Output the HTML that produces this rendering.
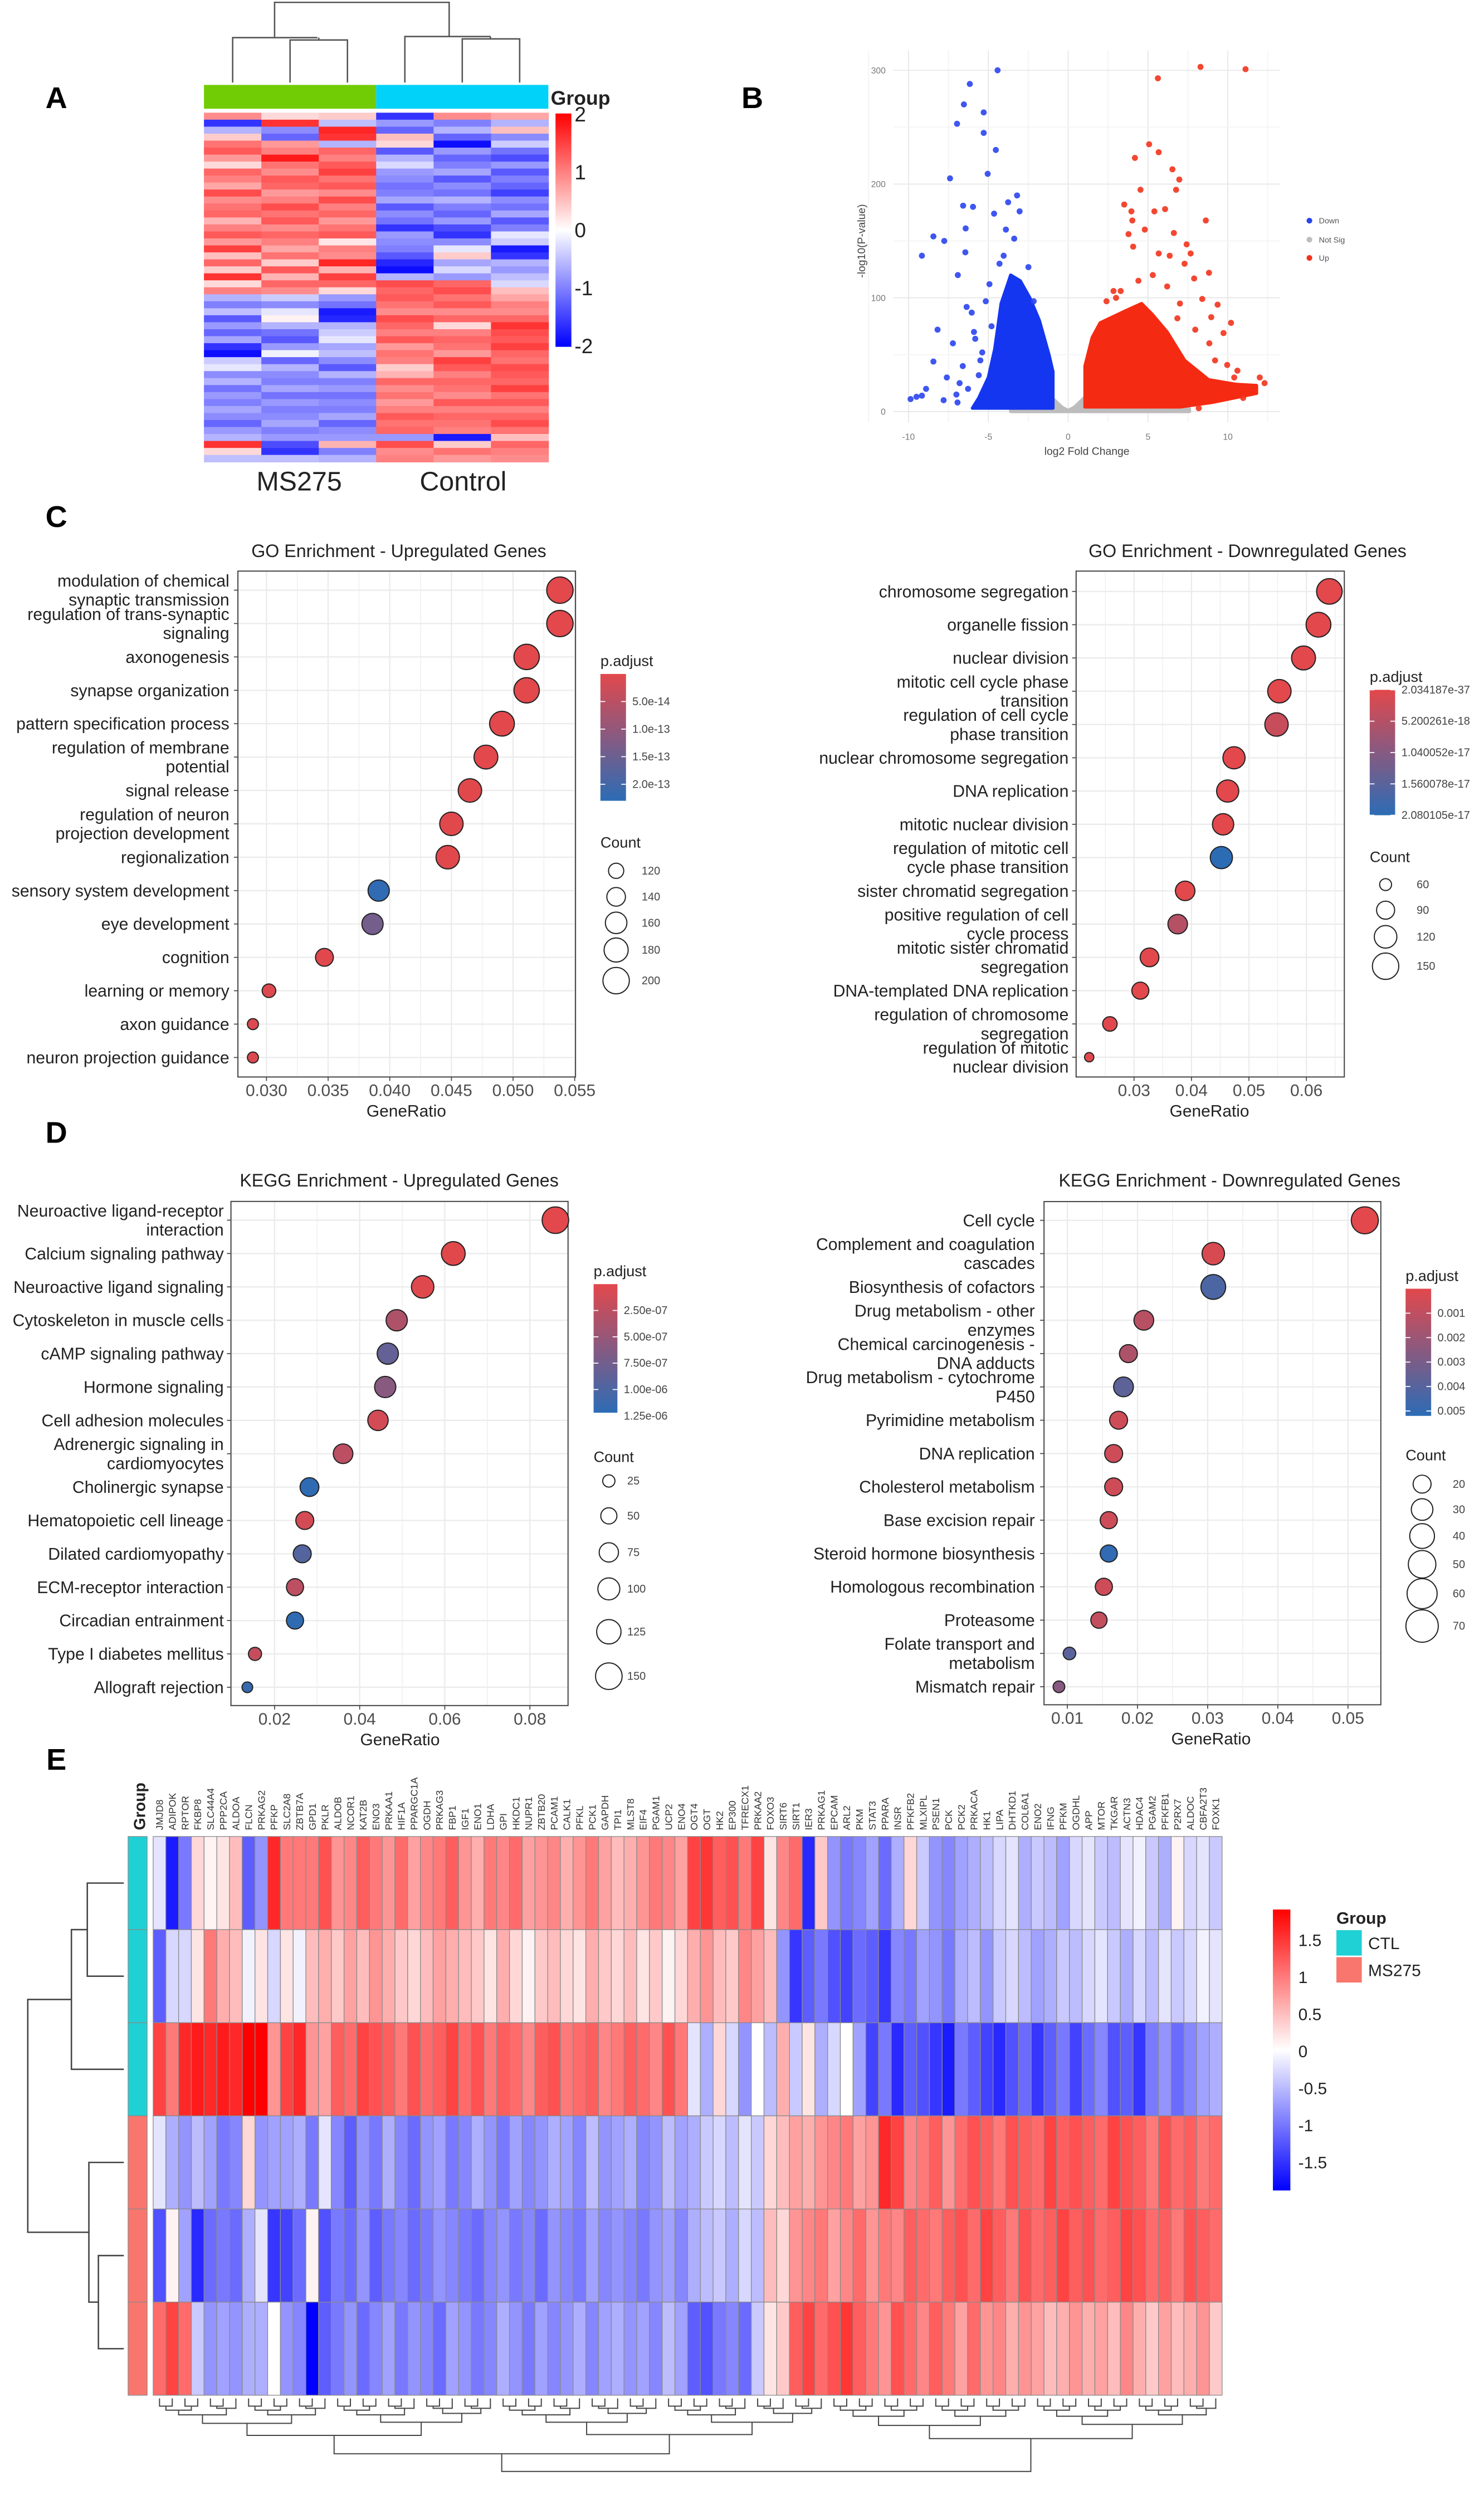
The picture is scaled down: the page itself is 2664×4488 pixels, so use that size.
<!DOCTYPE html>
<html><head><meta charset="utf-8"><title>Figure</title>
<style>
html,body{margin:0;padding:0;background:#fff;}
svg{display:block;font-family:"Liberation Sans",Arial,sans-serif;}
</style></head>
<body>
<svg id="fig" xmlns="http://www.w3.org/2000/svg" width="2664" height="4488" viewBox="0 0 935 1575" preserveAspectRatio="none">
<rect x="0" y="0" width="935" height="1575" fill="#fff"/>
<text x="35.5" y="68" font-size="19" font-weight="bold" text-anchor="middle">A</text>
<text x="474" y="68" font-size="19" font-weight="bold" text-anchor="middle">B</text>
<text x="35.5" y="332" font-size="19" font-weight="bold" text-anchor="middle">C</text>
<text x="35.5" y="720" font-size="19" font-weight="bold" text-anchor="middle">D</text>
<text x="35.5" y="1115" font-size="19" font-weight="bold" text-anchor="middle">E</text>
</svg>
<script>
// ---------- Panel A heatmap data (rows top->bottom) ----------
const aMs1=[0.9,-1.6,-0.6,0.4,1.1,1.3,0.8,0.3,1.2,1.0,0.7,1.4,0.9,1.1,1.2,0.6,1.0,1.3,0.8,1.5,0.5,1.2,0.4,1.6,0.3,1.0,-0.6,-1.0,-0.5,-1.3,-0.8,-1.2,-0.7,-1.6,-1.9,-0.4,-0.2,-0.9,-0.6,-1.1,-0.8,-1.0,-0.7,-0.9,-1.2,-0.8,-0.6,1.6,0.3,-0.5];
const aMs2=[0.3,1.6,-0.9,-1.2,0.8,1.0,1.8,1.1,0.9,1.3,1.2,0.8,1.0,1.4,1.1,1.3,0.9,1.2,1.0,0.7,1.1,0.4,1.3,0.6,1.2,0.9,-0.4,-0.9,-0.2,0.1,-0.6,-1.1,-1.3,-0.8,-0.1,-1.2,-0.6,-0.9,-1.0,-0.7,-1.1,-0.8,-1.0,-0.9,-0.7,-1.0,-0.8,-1.4,-1.6,-0.5];
const aMs3=[0.4,-0.5,1.7,1.6,-0.6,1.2,1.0,1.3,1.5,1.1,1.3,0.9,1.4,1.0,1.2,0.8,1.1,1.3,0.2,1.0,0.9,1.7,0.6,1.5,1.2,0.3,-0.8,-1.1,-1.8,-1.7,-0.6,-0.4,-0.2,-0.7,-0.5,-0.9,-1.3,-0.6,-1.0,-0.8,-1.1,-0.9,-1.0,-0.7,-1.2,-0.9,-0.8,0.6,-1.0,-0.6];
const aCt1=[-1.6,-0.8,-1.2,0.5,0.3,-1.3,-0.6,-0.3,-0.8,-0.9,-1.1,-1.0,-0.7,-1.3,-0.9,-1.1,-1.6,-0.8,-0.9,-1.0,-1.3,-1.7,-1.9,-0.6,1.4,1.2,1.3,1.1,0.9,1.4,1.2,1.0,1.3,0.8,1.1,1.0,0.4,0.6,1.2,0.9,1.1,0.8,1.0,1.3,1.1,1.2,-0.8,1.4,0.9,1.0];
const aCt2=[0.9,-1.0,-0.6,-1.2,-1.9,-0.8,-1.2,-1.0,-0.7,-1.3,-0.9,-1.1,-0.6,-1.0,-1.2,-0.8,-1.4,-1.6,-0.9,-0.2,0.4,-0.7,-0.3,-0.8,1.2,1.4,1.1,1.3,0.9,1.2,0.3,1.0,1.2,1.1,0.8,1.5,1.3,1.0,1.2,1.1,0.9,1.3,1.0,1.2,1.1,1.0,-1.8,0.4,1.1,0.8];
const aCt3=[0.7,-0.6,0.5,-0.9,-0.4,-1.1,-1.4,-0.8,-1.3,-1.0,-1.2,-1.5,-0.9,-1.1,-0.7,-1.3,-1.0,-0.2,-0.4,-1.8,-1.6,-0.6,-0.8,-0.5,-0.3,0.5,0.7,1.0,0.9,1.2,1.6,1.4,1.3,1.5,1.2,1.1,1.4,1.3,1.2,1.5,1.1,1.3,1.0,1.2,1.4,1.1,0.5,1.2,1.0,0.9];
const aSamples=["MS275-1","MS275-2","MS275-3","Control-1","Control-2","Control-3"];
// ---------- Panel B volcano data ----------
const downFC=[-4.42,-6.16,-6.53,-5.29,-6.96,-5.29,-4.53,-5.04,-7.4,-3.2,-6.58,-5.96,-4.64,-3.76,-3.04,-6.42,-8.44,-7.76,-9.16,-6.44,-6.91,-8.18,-7.22,-8.44,-9.87,-9.16,-7.8,-7.6,-6.36,-6.04,-5.16,-5.82,-6.27,-6.93,-5.6,-4.93,-4.04,-3.38,-2.49,-2.16,-5.38,-4.8,-5.5,-6.8,-7.0,-4.3,-3.9,-5.9,-6.6,-8.9,-9.5];
const downLP=[300,288,270,263,253,245,230,209,205,190,181,180,174,184,176,161,154,150,137,140,120,72,60,44,11,14,10,30,92,87,97,64,20,8,32,112,137,152,127,97,52,75,45,25,15,130,160,70,40,20,13];
const upFC=[8.29,11.11,5.62,5.07,5.67,4.18,6.53,6.96,4.53,6.76,3.51,5.4,6.07,3.96,8.62,4.02,6.62,3.78,4.8,7.42,7.67,4.07,5.67,6.36,8.82,7.29,7.89,9.36,8.4,8.96,10.2,9.73,9.96,10.6,12.0,12.3,10.96,8.18,8.84,3.29,2.84,2.4,7.96,6.84,5.3,4.4,3.0,6.2,7.0,9.2,10.4];
const upLP=[303,301,293,235,228,223,213,204,195,195,182,176,178,176,168,168,157,156,160,147,139,145,139,137,122,130,117,94,99,83,78,69,41,36,30,25,12,3,60,106,106,97,72,82,120,115,100,110,95,45,30];
const downAreaFC=[-0.95,-0.95,-1.2,-1.8,-2.4,-3.0,-3.6,-4.2,-4.6,-5.0,-5.6,-6.0,-0.95];
const downAreaLP=[4,35,50,80,100,115,120,95,55,30,12,3,3];
const upAreaFC=[1.05,1.05,1.5,2.0,3.5,4.6,5.3,6.2,7.3,8.8,10.5,11.8,11.8,9.0,7.0];
const upAreaLP=[4,40,65,78,88,95,85,70,45,28,24,23,16,8,4];
const nsAreaFC=[-3.6,-1.0,-0.4,0,0.4,1.0,7.6,7.6,-3.6];
const nsAreaLP=[2.5,12,4,1,4,12,2.5,0,0];
const volXTicks=[-10,-5,0,5,10];
const volYTicks=[0,100,200,300];
// ---------- Panel C / D dot plot data ----------
const goUpTerms=["modulation of chemical\nsynaptic transmission","regulation of trans-synaptic\nsignaling","axonogenesis","synapse organization","pattern specification process","regulation of membrane\npotential","signal release","regulation of neuron\nprojection development","regionalization","sensory system development","eye development","cognition","learning or memory","axon guidance","neuron projection guidance"];
const goUpRatio=[0.0538,0.0538,0.0511,0.0511,0.0491,0.0478,0.0465,0.0450,0.0447,0.0391,0.0386,0.0347,0.0302,0.0289,0.0289];
const goUpCount=[200,200,191,191,186,178,175,175,175,158,158,135,112,101,101];
const goUpPadj=[1e-16,1e-16,2e-16,2e-16,4e-16,6e-16,8e-16,1e-15,1e-15,2.25e-13,1.4e-13,2e-15,6e-15,8e-15,9e-15];
const goUpTicks=[0.030,0.035,0.040,0.045,0.050,0.055];
const goUpCbTicks=[5e-14,1e-13,1.5e-13,2e-13];
const goUpCbLabels=["5.0e-14","1.0e-13","1.5e-13","2.0e-13"];
const goUpLegend=[120,140,160,180,200];

const goDnTerms=["chromosome segregation","organelle fission","nuclear division","mitotic cell cycle phase\ntransition","regulation of cell cycle\nphase transition","nuclear chromosome segregation","DNA replication","mitotic nuclear division","regulation of mitotic cell\ncycle phase transition","sister chromatid segregation","positive regulation of cell\ncycle process","mitotic sister chromatid\nsegregation","DNA-templated DNA replication","regulation of chromosome\nsegregation","regulation of mitotic\nnuclear division"];
const goDnRatio=[0.0640,0.0621,0.0595,0.0553,0.0548,0.0474,0.0463,0.0455,0.0452,0.0389,0.0376,0.0327,0.0311,0.0258,0.0222];
const goDnCount=[143,137,130,126,126,117,117,111,117,99,99,94,84,71,51];
const goDnPadj=[2.1e-37,1e-30,1e-28,1e-26,3e-18,1e-24,1e-22,1e-22,2.08e-17,1e-21,5e-18,1e-20,1e-20,1e-19,1e-19];
const goDnTicks=[0.03,0.04,0.05,0.06];
const goDnCbTicks=[0,5.200261e-18,1.040052e-17,1.560078e-17,2.080105e-17];
const goDnCbLabels=["2.034187e-37","5.200261e-18","1.040052e-17","1.560078e-17","2.080105e-17"];
const goDnLegend=[60,90,120,150];

const kgUpTerms=["Neuroactive ligand-receptor\ninteraction","Calcium signaling pathway","Neuroactive ligand signaling","Cytoskeleton in muscle cells","cAMP signaling pathway","Hormone signaling","Cell adhesion molecules","Adrenergic signaling in\ncardiomyocytes","Cholinergic synapse","Hematopoietic cell lineage","Dilated cardiomyopathy","ECM-receptor interaction","Circadian entrainment","Type I diabetes mellitus","Allograft rejection"];
const kgUpRatio=[0.0860,0.0620,0.0548,0.0487,0.0466,0.0460,0.0443,0.0361,0.0282,0.0271,0.0265,0.0248,0.0248,0.0154,0.0136];
const kgUpCount=[150,118,105,93,93,93,85,78,71,64,64,57,57,30,17];
const kgUpPadj=[1e-12,5e-9,2e-8,3.5e-7,8.5e-7,6e-7,1e-7,2.5e-7,1.2e-6,1e-7,9.5e-7,2.5e-7,1.2e-6,2e-7,1.15e-6];
const kgUpTicks=[0.02,0.04,0.06,0.08];
const kgUpCbTicks=[2.5e-7,5e-7,7.5e-7,1e-6,1.25e-6];
const kgUpCbLabels=["2.50e-07","5.00e-07","7.50e-07","1.00e-06","1.25e-06"];
const kgUpLegend=[25,50,75,100,125,150];

const kgDnTerms=["Cell cycle","Complement and coagulation\ncascades","Biosynthesis of cofactors","Drug metabolism - other\nenzymes","Chemical carcinogenesis -\nDNA adducts","Drug metabolism - cytochrome\nP450","Pyrimidine metabolism","DNA replication","Cholesterol metabolism","Base excision repair","Steroid hormone biosynthesis","Homologous recombination","Proteasome","Folate transport and\nmetabolism","Mismatch repair"];
const kgDnRatio=[0.0524,0.0308,0.0308,0.0209,0.0187,0.0180,0.0173,0.0166,0.0166,0.0159,0.0159,0.0152,0.0145,0.0103,0.0088];
const kgDnCount=[48,32.5,40,24.7,20,24.7,20,20,20,18,18,18,16,8.7,7.2];
const kgDnPadj=[1e-12,3e-4,4.3e-3,1.2e-3,1.5e-3,3.8e-3,6e-4,6e-4,6e-4,6e-4,5.1e-3,6e-4,9e-4,3.9e-3,2.6e-3];
const kgDnTicks=[0.01,0.02,0.03,0.04,0.05];
const kgDnCbTicks=[0.001,0.002,0.003,0.004,0.005];
const kgDnCbLabels=["0.001","0.002","0.003","0.004","0.005"];
const kgDnLegend=[20,30,40,50,60,70];
// ---------- Panel E heatmap data ----------
const eGenes=["JMJD8","ADIPOK","RPTOR","FKBP8","SLC44A4","PPP2CA","ALDOA","FLCN","PRKAG2","PFKP","SLC2A8","ZBTB7A","GPD1","PKLR","ALDOB","NCOR1","KAT2B","ENO3","PRKAA1","HIF1A","PPARGC1A","OGDH","PRKAG3","FBP1","IGF1","ENO1","LDHA","GPI","HKDC1","NUPR1","ZBTB20","PCAM1","CALK1","PFKL","PCK1","GAPDH","TPI1","MLST8","EIF4","PGAM1","UCP2","ENO4","OGT4","OGT","HK2","EP300","TFRECX1","PRKAA2","FOXO3","SIRT6","SIRT1","IER3","PRKAG1","EPCAM","ARL2","PKM","STAT3","PPARA","INSR","PFKFB2","MLXIPL","PSEN1","PCK","PCK2","PRKACA","HK1","LIPA","DHTKD1","COL6A1","ENO2","IFNG","PFKM","OGDHL","APP","MTOR","TKGAR","ACTN3","HDAC4","PGAM2","PFKFB1","P2RX7","ALDOC","CBFA2T3","FOXK1"];
const eGroups=["CTL","CTL","CTL","MS275","MS275","MS275"];
const eRow1=[-0.2,-1.7,-1.0,0.3,0.1,0.2,0.5,-1.2,-0.8,1.6,1.0,1.0,1.0,1.3,0.8,0.9,1.2,1.0,0.8,1.1,0.7,0.9,1.0,1.2,0.8,0.6,1.0,0.9,1.1,0.7,0.8,0.9,0.6,0.8,1.0,0.7,0.5,0.6,0.8,1.0,0.9,0.7,1.4,1.5,1.2,1.3,1.0,1.4,0.2,0.9,1.1,-1.6,0.4,-0.8,-1.0,-0.9,-0.7,-1.1,-0.6,0.3,-0.4,-0.8,-0.9,-0.7,-0.6,-0.5,-0.3,-0.2,-0.6,-0.4,-0.5,-0.7,-0.3,-0.2,-0.4,-0.5,-0.2,-0.1,-0.4,-0.6,0.1,-0.3,-0.2,-0.4];
const eRow2=[-1.2,-0.3,-0.3,0.2,1.0,0.6,0.5,-0.1,0.2,-0.3,0.2,-0.1,0.5,0.6,0.4,0.7,0.5,0.8,0.6,0.4,0.3,0.5,0.7,0.6,0.5,0.4,0.2,0.6,0.3,0.1,0.4,0.5,0.3,0.2,0.6,0.4,0.3,0.5,0.2,0.4,0.1,0.3,0.6,0.8,0.5,0.4,0.9,0.7,0.5,-0.8,-1.5,-1.2,-1.0,-1.3,-1.4,-1.1,-1.2,-1.5,-0.9,-1.0,-0.7,-0.8,-1.0,-0.6,-0.5,-0.8,-0.4,-0.3,-0.5,-0.7,-0.6,-0.4,-0.5,-0.3,-0.2,-0.4,-0.6,-0.3,-0.5,-0.2,-0.4,-0.3,-0.1,-0.2];
const eRow3=[1.4,1.0,1.6,1.7,1.6,1.7,1.6,1.9,1.9,0.8,1.4,1.6,0.8,0.7,1.2,1.1,1.4,1.3,1.2,1.0,1.3,1.1,1.2,1.4,1.1,1.3,1.0,1.2,1.1,0.9,1.2,1.3,1.0,1.1,1.2,0.9,1.0,1.2,1.1,0.9,1.3,1.0,-0.2,-0.6,0.3,-0.3,-0.8,0.0,-0.5,0.6,-0.4,0.2,-0.6,-0.3,0.0,-0.7,-1.4,-1.0,-1.6,-1.2,-1.3,-1.5,-1.7,-1.0,-1.2,-1.4,-1.6,-1.3,-1.1,-1.5,-1.2,-1.0,-1.4,-1.1,-0.9,-1.3,-1.2,-1.5,-1.0,-0.8,-1.1,-0.9,-0.7,-0.6];
const eRow4=[-0.2,-0.6,-0.8,-0.5,-0.7,-1.0,-0.9,0.3,-0.8,-0.7,-0.7,-0.6,-1.0,-0.2,-0.9,-1.2,-0.8,-1.0,-0.6,-0.9,-1.1,-0.8,-0.7,-1.0,-0.9,-0.6,-0.8,-1.0,-0.7,-0.9,-0.8,-0.6,-0.7,-0.9,-0.5,-0.8,-0.7,-0.6,-0.9,-0.8,-0.5,-0.7,-0.6,-0.4,-0.3,-0.5,-0.2,-0.4,0.3,0.5,0.7,0.6,0.8,0.9,1.0,0.7,0.8,1.6,1.4,0.9,1.0,1.2,0.8,1.1,1.3,1.2,1.0,1.3,1.2,1.1,1.4,1.2,1.3,1.2,1.1,1.4,1.3,1.2,1.0,1.3,1.1,1.2,1.0,1.1];
const eRow5=[-1.3,0.1,-0.7,-1.6,-1.1,-1.0,-1.1,-0.6,-0.2,-1.5,-1.4,-1.1,0.1,-1.3,-1.0,-1.1,-0.8,-1.2,-1.0,-0.9,-1.1,-1.0,-0.8,-0.9,-1.0,-1.1,-0.9,-0.8,-1.0,-0.9,-1.1,-0.8,-0.9,-1.0,-0.7,-0.9,-0.8,-0.9,-1.0,-0.8,-0.7,-0.9,-0.6,-0.5,-0.4,-0.6,-0.3,-0.5,0.5,0.3,0.8,0.9,1.0,0.7,0.9,1.1,0.8,1.0,0.9,1.2,1.1,1.0,1.2,1.3,1.1,1.4,1.2,1.0,1.3,1.1,1.2,1.4,1.2,1.3,1.1,1.2,1.4,1.3,1.1,1.2,1.0,1.3,1.2,1.1];
const eRow6=[1.1,1.4,1.1,-0.4,-0.8,-0.7,-0.8,-0.6,-0.6,0.0,-0.8,-0.9,-1.9,-1.2,-1.0,-0.8,-1.1,-0.9,-0.7,-1.0,-0.8,-0.9,-1.1,-0.7,-0.8,-1.0,-0.9,-0.6,-0.8,-1.0,-0.7,-0.9,-0.8,-0.6,-0.9,-0.7,-0.6,-0.8,-0.7,-0.9,-0.5,-0.7,-1.2,-1.3,-1.0,-0.9,-1.1,-0.4,0.2,0.4,1.2,1.4,1.1,1.3,1.5,1.2,1.0,0.8,1.3,1.1,0.9,1.2,1.0,0.7,1.1,0.8,0.9,0.6,0.8,0.7,0.5,0.6,0.8,0.6,0.7,0.5,0.9,0.6,0.4,0.7,0.5,0.6,0.8,0.4];
const eTicks=[1.5,1,0.5,0,-0.5,-1,-1.5];

// ---------- helpers ----------
const NS='http://www.w3.org/2000/svg';
const svg=document.getElementById('fig');
function mk(tag,attrs,parent){const e=document.createElementNS(NS,tag);for(const k in attrs)e.setAttribute(k,attrs[k]);(parent||svg).appendChild(e);return e;}
function txt(x,y,s,size,anchor,parent,extra){const e=mk('text',Object.assign({x:x,y:y,'font-size':size,'text-anchor':anchor||'start',fill:'#222'},extra||{}),parent);e.textContent=s;return e;}
function mix(a,b,t){t=Math.max(0,Math.min(1,t));return 'rgb('+a.map((v,i)=>Math.round(v+(b[i]-v)*t)).join(',')+')';}
const RED=[226,72,76],BLUE=[44,108,181];
function divColor(v,max){return v>=0?mix([255,255,255],[255,0,0],v/max):mix([255,255,255],[0,0,255],-v/max);}

// ---------- Panel A ----------
(function(){
  const g=mk('g',{});
  
  
  const cols=[aMs1,aMs2,aMs3,aCt1,aCt2,aCt3];
  const x0=128.5,x1=345.5,y0=71,y1=291;
  const cw=(x1-x0)/cols.length, rh=(y1-y0)/aMs1.length;
  cols.forEach((col,c)=>{col.forEach((v,r)=>{
    const rc=mk('rect',{x:x0+c*cw,y:y0+r*rh,width:cw+0.3,height:rh+0.3,fill:divColor(v,2)},g);
    
    
  });});
  const gb1=mk('rect',{x:x0,y:53.5,width:cw*3,height:15,fill:'#72CC05'},g);
  
  
  const gb2=mk('rect',{x:x0+cw*3,y:53.5,width:cw*3,height:15,fill:'#00D2FA'},g);
  
  
  const cx=i=>x0+cw*(i+0.5);
  const dd='M'+cx(0)+',52 V23.7 H200 M'+cx(1)+',52 V25.2 H'+cx(2)+' V52 M'+((cx(1)+cx(2))/2)+',25.2 V23.7 M173,23.7 V1.5 H283 V23 M'+cx(3)+',52 V23 H309 M'+cx(4)+',52 V24.5 H'+cx(5)+' V52 M309,24.5 V23';
  const den=mk('path',{d:dd,fill:'none',stroke:'#555','stroke-width':0.9},g);
  
  
  const defs=mk('defs',{});
  const lg=mk('linearGradient',{id:'gradA',x1:0,y1:0,x2:0,y2:1},defs);
  mk('stop',{offset:'0','stop-color':'#ff0000'},lg);mk('stop',{offset:'0.5','stop-color':'#ffffff'},lg);mk('stop',{offset:'1','stop-color':'#0000ff'},lg);
  const cb=mk('rect',{x:350,y:71.5,width:10,height:147,fill:'url(#gradA)'},g);
  
  
  const tv=[2,1,0,-1,-2];
  tv.forEach(v=>{const t=txt(362,145-v*36.5+4.5,String(v),13,'start',g);
    
    });
  const gt=txt(347,66,'Group',12.5,'start',g,{'font-weight':'bold'});
  
  
  const l1=txt(188.5,309,'MS275',17,'middle',g);
  
  
  const l2=txt(291.8,309,'Control',17,'middle',g);
  
  
})();

// ---------- Panel B ----------
(function(){
  const g=mk('g',{});
  
  
  const X=v=>673+v*10.06, Y=v=>259.3-v*0.7167;
  for(let v=-12.5;v<=12.5;v+=2.5){const l=mk('line',{x1:X(v),x2:X(v),y1:31.8,y2:266,stroke:(v%5===0)?'#e6e6e6':'#f3f3f3','stroke-width':0.6},g);
    
    }
  for(let v=0;v<=320;v+=50){const l=mk('line',{x1:562.8,x2:806.7,y1:Y(v),y2:Y(v),stroke:(v%100===0)?'#e6e6e6':'#f3f3f3','stroke-width':0.6},g);
    
    }
  volXTicks.forEach(v=>{const t=txt(X(v),277,String(v),5.5,'middle',g,{fill:'#777'});
    
    });
  volYTicks.forEach(v=>{const t=txt(558,Y(v)+2,String(v),5.5,'end',g,{fill:'#777'});
    
    });
  const poly=(fx,fy,col,name)=>{const p=mk('polygon',{points:fx.map((v,i)=>X(v)+','+Y(fy[i])).join(' '),fill:col,stroke:col,'stroke-width':2,'stroke-linejoin':'round'},g);
    
    };
  poly(nsAreaFC,nsAreaLP,'#bdbdbd','not-sig-points');
  poly(downAreaFC,downAreaLP,'#1536F0','down-points-dense');
  poly(upAreaFC,upAreaLP,'#F52A12','up-points-dense');
  downFC.forEach((v,i)=>{const c=mk('circle',{cx:X(v),cy:Y(downLP[i]),r:1.9,fill:'#2A44EE','fill-opacity':0.9},g);
    
    });
  upFC.forEach((v,i)=>{const c=mk('circle',{cx:X(v),cy:Y(upLP[i]),r:1.9,fill:'#F2331C','fill-opacity':0.9},g);
    
    });
  const xt=txt(684.8,286.5,'log2 Fold Change',6.8,'middle',g,{fill:'#444'});
  
  
  const yt=txt(0,0,'-log10(P-value)',6.8,'middle',g,{fill:'#444',transform:'translate(545,151.8) rotate(-90)'});
  
  
  [['Down','#2A44EE',139],['Not Sig','#bdbdbd',151],['Up','#F2331C',162.5]].forEach(e=>{
    const c=mk('circle',{cx:825,cy:e[2],r:1.8,fill:e[1]},g);
    
    
    const t=txt(831,e[2]+1.8,e[0],5,'start',g,{fill:'#555'});
    
    });
})();

// ---------- dot plot panels ----------
function dotPanel(o,terms,ratio,count,padj,ticks,cbTicks,cbLabels,legend){
  const g=mk('g',{});
  
  
  const [bx0,by0,bx1,by1]=o.box;
  const X=v=>o.tx0+(v-ticks[0])*o.pxPer;
  const Y=i=>o.row0+i*o.step;
  const R=c=>Math.sqrt(Math.max(4,o.k0+o.k1*c));
  const step=ticks[1]-ticks[0];
  for(let v=ticks[0]-step;v<=ticks[ticks.length-1]+step;v+=step/2){const xx=X(v);if(xx<=bx0||xx>=bx1)continue;
    const l=mk('line',{x1:xx,x2:xx,y1:by0,y2:by1,stroke:'#ebebeb','stroke-width':Math.abs(((v-ticks[0])/step)%1)<0.01||Math.abs(((v-ticks[0])/step)%1)>0.99?0.8:0.4},g);
    
    }
  terms.forEach((t,i)=>{const l=mk('line',{x1:bx0,x2:bx1,y1:Y(i),y2:Y(i),stroke:'#ebebeb','stroke-width':0.8},g);
    
    });
  const bd=mk('rect',{x:bx0,y:by0,width:bx1-bx0,height:by1-by0,fill:'none',stroke:'#444','stroke-width':0.7},g);
  
  
  terms.forEach((t,i)=>{
    const lines=t.split('\n');
    lines.forEach((ln,j)=>{const e=txt(o.labelX,Y(i)-(lines.length-1)*6+j*12+3.7,ln,10.6,'end',g);
      
      });
    const tk=mk('line',{x1:bx0-2.5,x2:bx0,y1:Y(i),y2:Y(i),stroke:'#444','stroke-width':0.6},g);
    
    
  });
  ticks.forEach(v=>{const e=txt(X(v),by1+12,v.toFixed(o.dec),10.5,'middle',g,{fill:'#4d4d4d'});
    
    
    const tk=mk('line',{x1:X(v),x2:X(v),y1:by1,y2:by1+2.5,stroke:'#444','stroke-width':0.6},g);
    
    });
  const xt=txt(o.axisX,by1+25,'GeneRatio',10.5,'middle',g);
  
  
  const tt=txt(o.titleX,o.titleY,o.title,11.3,'middle',g);
  
  
  ratio.forEach((v,i)=>{const c=mk('circle',{cx:X(v),cy:Y(i),r:R(count[i]),fill:mix(RED,BLUE,padj[i]/o.pMax),stroke:'#222','stroke-width':0.7},g);
    
    });
  const [cx0,cy0,cx1,cy1]=o.cb;
  const pt=txt(cx0,cy0-5,'p.adjust',9.5,'start',g);
  
  
  const cbr=mk('rect',{x:cx0,y:cy0,width:cx1-cx0,height:cy1-cy0,fill:'url(#gradDot)'},g);
  
  
  cbTicks.forEach((v,i)=>{const yy=cy0+(v/o.pMax)*(cy1-cy0);
    const l=mk('line',{x1:cx0,x2:cx0+3,y1:yy,y2:yy,stroke:'#fff','stroke-width':0.6},g);
    
    
    const l2=mk('line',{x1:cx1-3,x2:cx1,y1:yy,y2:yy,stroke:'#fff','stroke-width':0.6},g);
    
    
    const e=txt(cx1+4,yy+2.3,cbLabels[i],7,'start',g,{fill:'#444'});
    
    });
  const ct=txt(cx0,o.countY,'Count',9.5,'start',g);
  
  
  legend.forEach((v,i)=>{const c=mk('circle',{cx:o.legX,cy:o.legYs[i],r:R(v),fill:'none',stroke:'#222','stroke-width':0.7},g);
    
    
    const e=txt(o.legTX,o.legYs[i]+2.3,String(v),7,'start',g,{fill:'#444'});
    
    });
}
(function(){const defs=mk('defs',{});const lg=mk('linearGradient',{id:'gradDot',x1:0,y1:0,x2:0,y2:1},defs);
  mk('stop',{offset:'0','stop-color':mix(RED,BLUE,0)},lg);mk('stop',{offset:'0.5','stop-color':mix(RED,BLUE,0.5)},lg);mk('stop',{offset:'1','stop-color':mix(RED,BLUE,1)},lg);})();

dotPanel({name:'panel-c-go-up',box:[149.9,359.8,362.6,678.5],tx0:167.9,pxPer:7768,row0:371.8,step:21.03,labelX:144.5,dec:3,axisX:256,titleX:251.3,titleY:351,title:'GO Enrichment - Upregulated Genes',pMax:2.3e-13,cb:[378.3,424.6,394.4,504.5],countY:534,legX:388.2,legYs:[548.6,565,581.4,598.5,617.8],legTX:404.3,k0:-46,k1:0.575},goUpTerms,goUpRatio,goUpCount,goUpPadj,goUpTicks,goUpCbTicks,goUpCbLabels,goUpLegend);
dotPanel({name:'panel-c-go-down',box:[678,359.8,847,678.5],tx0:714.5,pxPer:3620,row0:372.6,step:20.96,labelX:673.3,dec:2,axisX:762,titleX:786,titleY:351,title:'GO Enrichment - Downregulated Genes',pMax:2.080105e-17,cb:[863,434.6,879,513.6],countY:543,legX:873,legYs:[557.3,573.4,590.2,608.7],legTX:892.6,k0:-22.5,k1:0.61},goDnTerms,goDnRatio,goDnCount,goDnPadj,goDnTicks,goDnCbTicks,goDnCbLabels,goDnLegend);
dotPanel({name:'panel-d-kegg-up',box:[145.5,756.9,357.9,1074.5],tx0:173,pxPer:2681,row0:768.7,step:21.02,labelX:141,dec:2,axisX:252,titleX:251.5,titleY:747.5,title:'KEGG Enrichment - Upregulated Genes',pMax:1.22e-6,cb:[374,809,389,890],countY:921,legX:383.6,legYs:[933,955,978,1001,1028,1056],legTX:395.2,k0:3.9,k1:0.44},kgUpTerms,kgUpRatio,kgUpCount,kgUpPadj,kgUpTicks,kgUpCbTicks,kgUpCbLabels,kgUpLegend);
dotPanel({name:'panel-d-kegg-down',box:[657.8,757,870,1074],tx0:672.5,pxPer:4420,row0:768.8,step:20.99,labelX:652,dec:2,axisX:763,titleX:774.7,titleY:747.5,title:'KEGG Enrichment - Downregulated Genes',pMax:0.0052,cb:[885.6,811.9,901.7,892],countY:920,legX:896,legYs:[935,951,967.7,985.5,1004,1024.4],legTX:915.3,k0:3.2,k1:1.44},kgDnTerms,kgDnRatio,kgDnCount,kgDnPadj,kgDnTicks,kgDnCbTicks,kgDnCbLabels,kgDnLegend);

// ---------- Panel E ----------
(function(){
  const g=mk('g',{});
  
  
  const rows=[eRow1,eRow2,eRow3,eRow4,eRow5,eRow6];
  const x0=96.5,x1=770,y0=1157,y1=1509;
  const cw=(x1-x0)/eGenes.length, rh=(y1-y0)/rows.length;
  rows.forEach((row,r)=>{row.forEach((v,c)=>{
    const rc=mk('rect',{x:x0+c*cw,y:y0+r*rh,width:cw,height:rh,fill:divColor(v,1.9),stroke:'#8a8a8a','stroke-width':0.45},g);
    
    });});
  eGroups.forEach((gr,r)=>{const rc=mk('rect',{x:80.7,y:y0+r*rh,width:12,height:rh,fill:gr==='CTL'?'#1FD0D4':'#F8766D',stroke:'#8a8a8a','stroke-width':0.45},g);
    
    });
  eGenes.forEach((s,c)=>{const t=txt(0,0,s,6.2,'start',g,{transform:'translate('+(x0+c*cw+cw/2+2.2)+',1153) rotate(-90)',fill:'#333'});
    
    });
  const gl=txt(0,0,'Group',10,'start',g,{transform:'translate(91.5,1153) rotate(-90)','font-weight':'bold'});
  
  
  const ry=i=>y0+rh*(i+0.5);
  const rd='M78,'+ry(0)+' H55 V'+ry(1)+' H78 M55,'+((ry(0)+ry(1))/2)+' H45 V'+ry(2)+' H78 M78,'+ry(4)+' H62 V'+ry(5)+' H78 M62,'+((ry(4)+ry(5))/2)+' H56 V'+ry(3)+' H78 M45,'+((((ry(0)+ry(1))/2)+ry(2))/2)+' H17.5 V'+((ry(3)+(ry(4)+ry(5))/2)/2)+' H56';
  const rdp=mk('path',{d:rd,fill:'none',stroke:'#444','stroke-width':0.9},g);
  
  
  let dpath='';
  const cxm=i=>x0+cw*(i+0.5);
  function tree(a,b){ if(a===b) return {x:cxm(a),y:1511};
    const m=(a===0&&b===eGenes.length-1)?52:Math.floor((a+b)/2);
    const L=tree(a,m),Rr=tree(m+1,b);
    const h=1511+46*Math.pow((b-a+1)/eGenes.length,0.6);
    dpath+='M'+L.x+','+L.y+' V'+h+' H'+Rr.x+' V'+Rr.y+' ';
    return {x:(L.x+Rr.x)/2,y:h};}
  tree(0,eGenes.length-1);
  const cdp=mk('path',{d:dpath,fill:'none',stroke:'#444','stroke-width':0.7},g);
  
  
  const defs=mk('defs',{});const lg=mk('linearGradient',{id:'gradE',x1:0,y1:0,x2:0,y2:1},defs);
  mk('stop',{offset:'0','stop-color':'#ff0000'},lg);mk('stop',{offset:'0.5','stop-color':'#ffffff'},lg);mk('stop',{offset:'1','stop-color':'#0000ff'},lg);
  const cb=mk('rect',{x:802,y:1203,width:11,height:177,fill:'url(#gradE)'},g);
  
  
  eTicks.forEach(v=>{const t=txt(818,1292-v*46.7+4,String(v),10.5,'start',g);
    
    });
  const gt=txt(842,1212,'Group',10.5,'start',g,{'font-weight':'bold'});
  
  
  [['CTL','#1FD0D4',1216],['MS275','#F8766D',1233]].forEach(e=>{
    const r=mk('rect',{x:842,y:e[2],width:16,height:16,fill:e[1]},g);
    
    
    const t=txt(862,e[2]+12,e[0],10.5,'start',g);
    
    });
})();
</script>
</body></html>
